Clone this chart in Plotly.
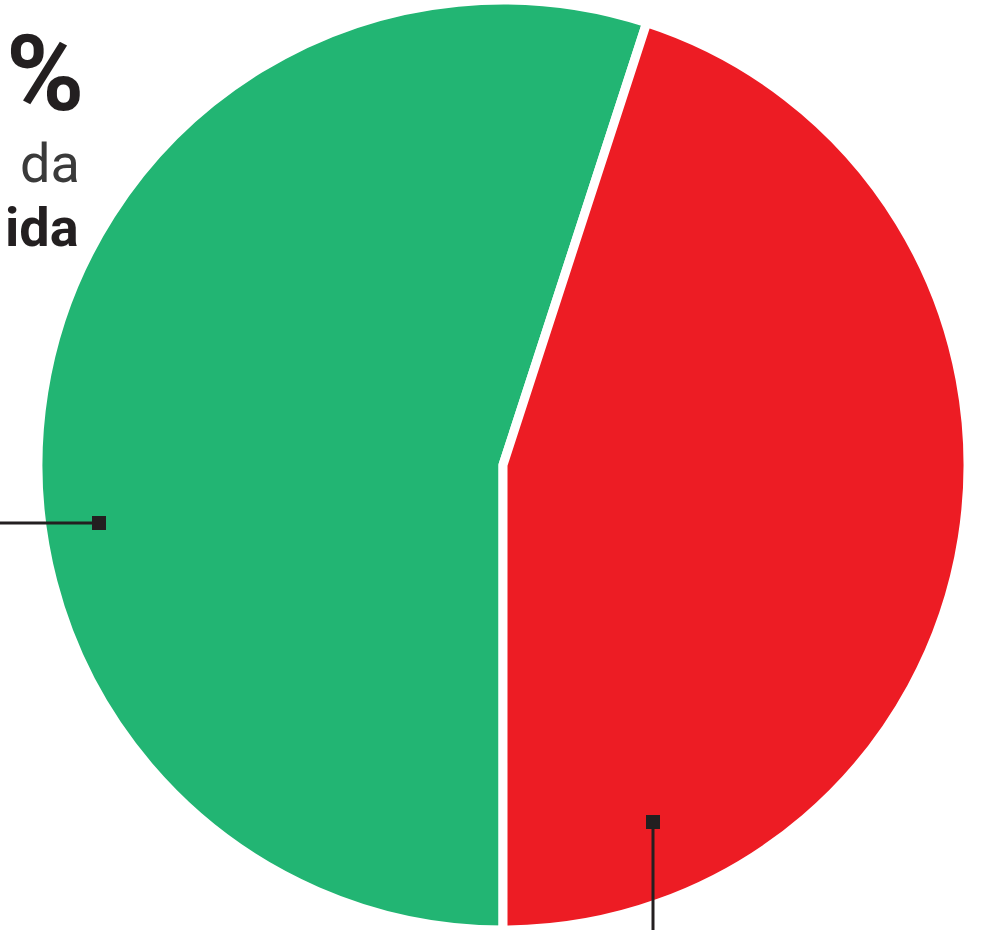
import plotly.graph_objects as go

labels = ["Verde", "Vermelho"]
values = [55, 45]
colors = ["#22B573", "#ED1C24"]

W, H = 991, 930

fig = go.Figure()
fig.add_trace(go.Pie(
    labels=labels, values=values, sort=False, direction="clockwise", rotation=180,
    marker=dict(colors=colors, line=dict(color="white", width=9)),
    textinfo="none", hoverinfo="label+percent", showlegend=False,
    domain=dict(x=[38/W, 968/W], y=[0, 1]),
))

def px(x):
    return x / W

def py(y):
    return 1 - y / H

FONT = "Roboto, Liberation Sans, sans-serif"
ann = []
ann.append(dict(text="<b>%</b>", x=px(4), y=py(74), xanchor="left", yanchor="middle",
                font=dict(family=FONT, size=106, color="#231F20")))
ann.append(dict(text="da", x=px(18), y=py(164), xanchor="left", yanchor="middle",
                font=dict(family=FONT, size=54, color="#3a3a3a")))
ann.append(dict(text="<b>ida</b>", x=px(3), y=py(227), xanchor="left", yanchor="middle",
                font=dict(family=FONT, size=54, color="#231F20")))
for a in ann:
    a.update(xref="paper", yref="paper", showarrow=False)

shapes = [
    dict(type="line", x0=px(0), x1=px(99), y0=py(523), y1=py(523), line=dict(color="#231F20", width=3)),
    dict(type="rect", x0=px(92), x1=px(106), y0=py(516), y1=py(530), fillcolor="#231F20", line=dict(width=0)),
    dict(type="line", x0=px(653), x1=px(653), y0=py(822), y1=py(930), line=dict(color="#231F20", width=3)),
    dict(type="rect", x0=px(646), x1=px(660), y0=py(815), y1=py(829), fillcolor="#231F20", line=dict(width=0)),
]
for s in shapes:
    s.update(xref="paper", yref="paper")

fig.update_layout(width=W, height=H, margin=dict(l=0, r=0, t=0, b=0),
                  paper_bgcolor="white", plot_bgcolor="white",
                  annotations=ann, shapes=shapes)

fig.write_html("out.html", config={"displayModeBar": False},
               post_script="document.body.style.margin='0';document.body.style.overflow='hidden';")
